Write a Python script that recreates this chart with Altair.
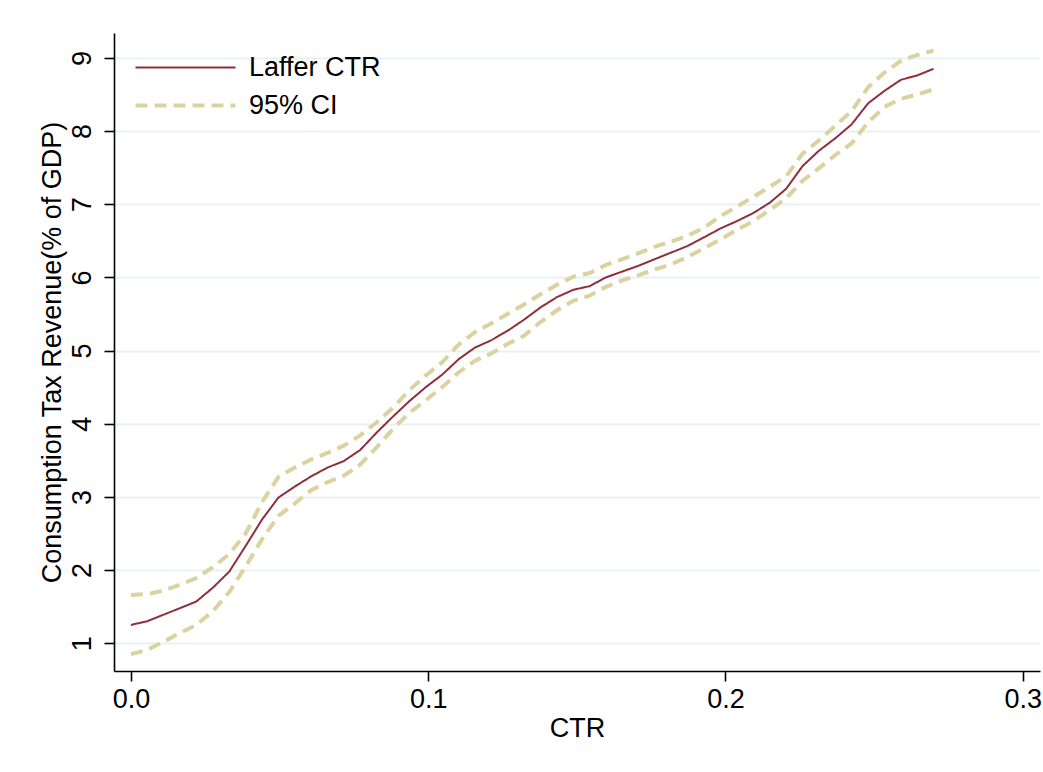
import altair as alt
import pandas as pd

# Consumption tax rate grid
ctr = [0.0000, 0.0055, 0.0110, 0.0165, 0.0220, 0.0276, 0.0331, 0.0386, 0.0441, 0.0496,
       0.0551, 0.0606, 0.0661, 0.0716, 0.0771, 0.0827, 0.0882, 0.0937, 0.0992, 0.1047,
       0.1102, 0.1157, 0.1212, 0.1267, 0.1322, 0.1378, 0.1433, 0.1488, 0.1543, 0.1598,
       0.1653, 0.1708, 0.1763, 0.1818, 0.1873, 0.1929, 0.1984, 0.2039, 0.2094, 0.2149,
       0.2204, 0.2259, 0.2314, 0.2369, 0.2424, 0.2480, 0.2535, 0.2590, 0.2645, 0.2700]

# Estimated revenue (% of GDP)
laffer = [1.25, 1.30, 1.39, 1.48, 1.57, 1.76, 1.98, 2.33, 2.69, 2.99,
          3.14, 3.28, 3.40, 3.49, 3.64, 3.88, 4.10, 4.31, 4.50, 4.67,
          4.88, 5.04, 5.14, 5.27, 5.42, 5.59, 5.73, 5.83, 5.88, 6.00,
          6.08, 6.16, 6.25, 6.34, 6.43, 6.55, 6.67, 6.77, 6.88, 7.02,
          7.21, 7.52, 7.73, 7.90, 8.09, 8.38, 8.55, 8.70, 8.76, 8.85]

ci_upper = [1.66, 1.67, 1.72, 1.80, 1.89, 2.04, 2.22, 2.50, 2.93, 3.27,
            3.40, 3.51, 3.60, 3.70, 3.84, 4.02, 4.22, 4.46, 4.66, 4.84,
            5.08, 5.25, 5.37, 5.50, 5.63, 5.77, 5.90, 6.01, 6.06, 6.17,
            6.25, 6.33, 6.42, 6.49, 6.57, 6.68, 6.84, 6.97, 7.10, 7.24,
            7.38, 7.69, 7.87, 8.07, 8.27, 8.60, 8.80, 8.96, 9.04, 9.10]

ci_lower = [0.85, 0.91, 1.02, 1.14, 1.25, 1.44, 1.70, 2.05, 2.42, 2.74,
            2.91, 3.09, 3.20, 3.29, 3.44, 3.68, 3.93, 4.15, 4.32, 4.50,
            4.70, 4.86, 4.96, 5.09, 5.20, 5.39, 5.55, 5.68, 5.75, 5.87,
            5.96, 6.03, 6.11, 6.18, 6.28, 6.40, 6.52, 6.65, 6.77, 6.92,
            7.08, 7.32, 7.49, 7.67, 7.83, 8.12, 8.33, 8.44, 8.50, 8.57]

series_names = ["Laffer CTR", "95% CI"]
series_colors = ["#8E2F3B", "#DAD3A0"]

rows = []
for band, name, vals in [("upper", "95% CI", ci_upper),
                         ("lower", "95% CI", ci_lower),
                         ("fit", "Laffer CTR", laffer)]:
    for x, y in zip(ctr, vals):
        rows.append({"CTR": x, "rev": y, "series": name, "band": band})
df = pd.DataFrame(rows)

FONT = "Liberation Sans"
FS = 27

x_enc = alt.X("CTR:Q",
              scale=alt.Scale(domain=[-0.0057, 0.3058], nice=False, zero=False),
              axis=alt.Axis(title="CTR", values=[0, 0.1, 0.2, 0.3], format=".1f",
                            grid=False, tickSize=10, labelPadding=5, titlePadding=3))
y_enc = alt.Y("rev:Q",
              scale=alt.Scale(domain=[0.62, 9.34], nice=False, zero=False),
              axis=alt.Axis(title="Consumption Tax Revenue(% of GDP)",
                            values=list(range(1, 10)), grid=True, tickSize=10,
                            labelAngle=270, labelAlign="center",
                            labelBaseline="alphabetic", labelPadding=14,
                            titlePadding=2))

color_enc = alt.Color("series:N",
                      scale=alt.Scale(domain=series_names, range=series_colors),
                      legend=alt.Legend(title=None))
dash_enc = alt.StrokeDash("series:N",
                          scale=alt.Scale(domain=series_names, range=[[1, 0], [12, 7]]),
                          legend=alt.Legend(title=None))
width_enc = alt.StrokeWidth("series:N",
                            scale=alt.Scale(domain=series_names, range=[2, 4]),
                            legend=alt.Legend(title=None))

ci_layer = alt.Chart(df).transform_filter(alt.datum.band != "fit").mark_line().encode(
    x=x_enc, y=y_enc, color=color_enc, strokeDash=dash_enc, strokeWidth=width_enc,
    detail="band:N")

fit_layer = alt.Chart(df).transform_filter(alt.datum.band == "fit").mark_line().encode(
    x=x_enc, y=y_enc, color=color_enc, strokeDash=dash_enc, strokeWidth=width_enc,
    detail="band:N")

# Long legend key: a horizontal path five times the nominal symbol width
KEY_PATH = "M-5,0H5"

chart = alt.layer(ci_layer, fit_layer).properties(
    width=926, height=638,
    autosize=alt.AutoSizeParams(type="none"),
    padding={"left": 114, "top": 33, "right": 3, "bottom": 101},
    background="white",
).configure_view(stroke=None).configure_axis(
    labelFont=FONT, titleFont=FONT, labelFontSize=FS, titleFontSize=FS,
    labelColor="black", titleColor="black", titleFontWeight="normal",
    domainColor="black", domainWidth=1.6, tickColor="black", tickWidth=1.6,
    gridColor="#EAF1F3", gridWidth=2,
).configure_legend(
    orient="none", legendX=58, legendY=21, padding=0,
    symbolType=KEY_PATH, symbolSize=400, labelFont=FONT, labelFontSize=FS,
    labelColor="black", labelOffset=50, rowPadding=10, labelLimit=400,
)

chart.save("out.html", embed_options={"renderer": "svg", "actions": False})
